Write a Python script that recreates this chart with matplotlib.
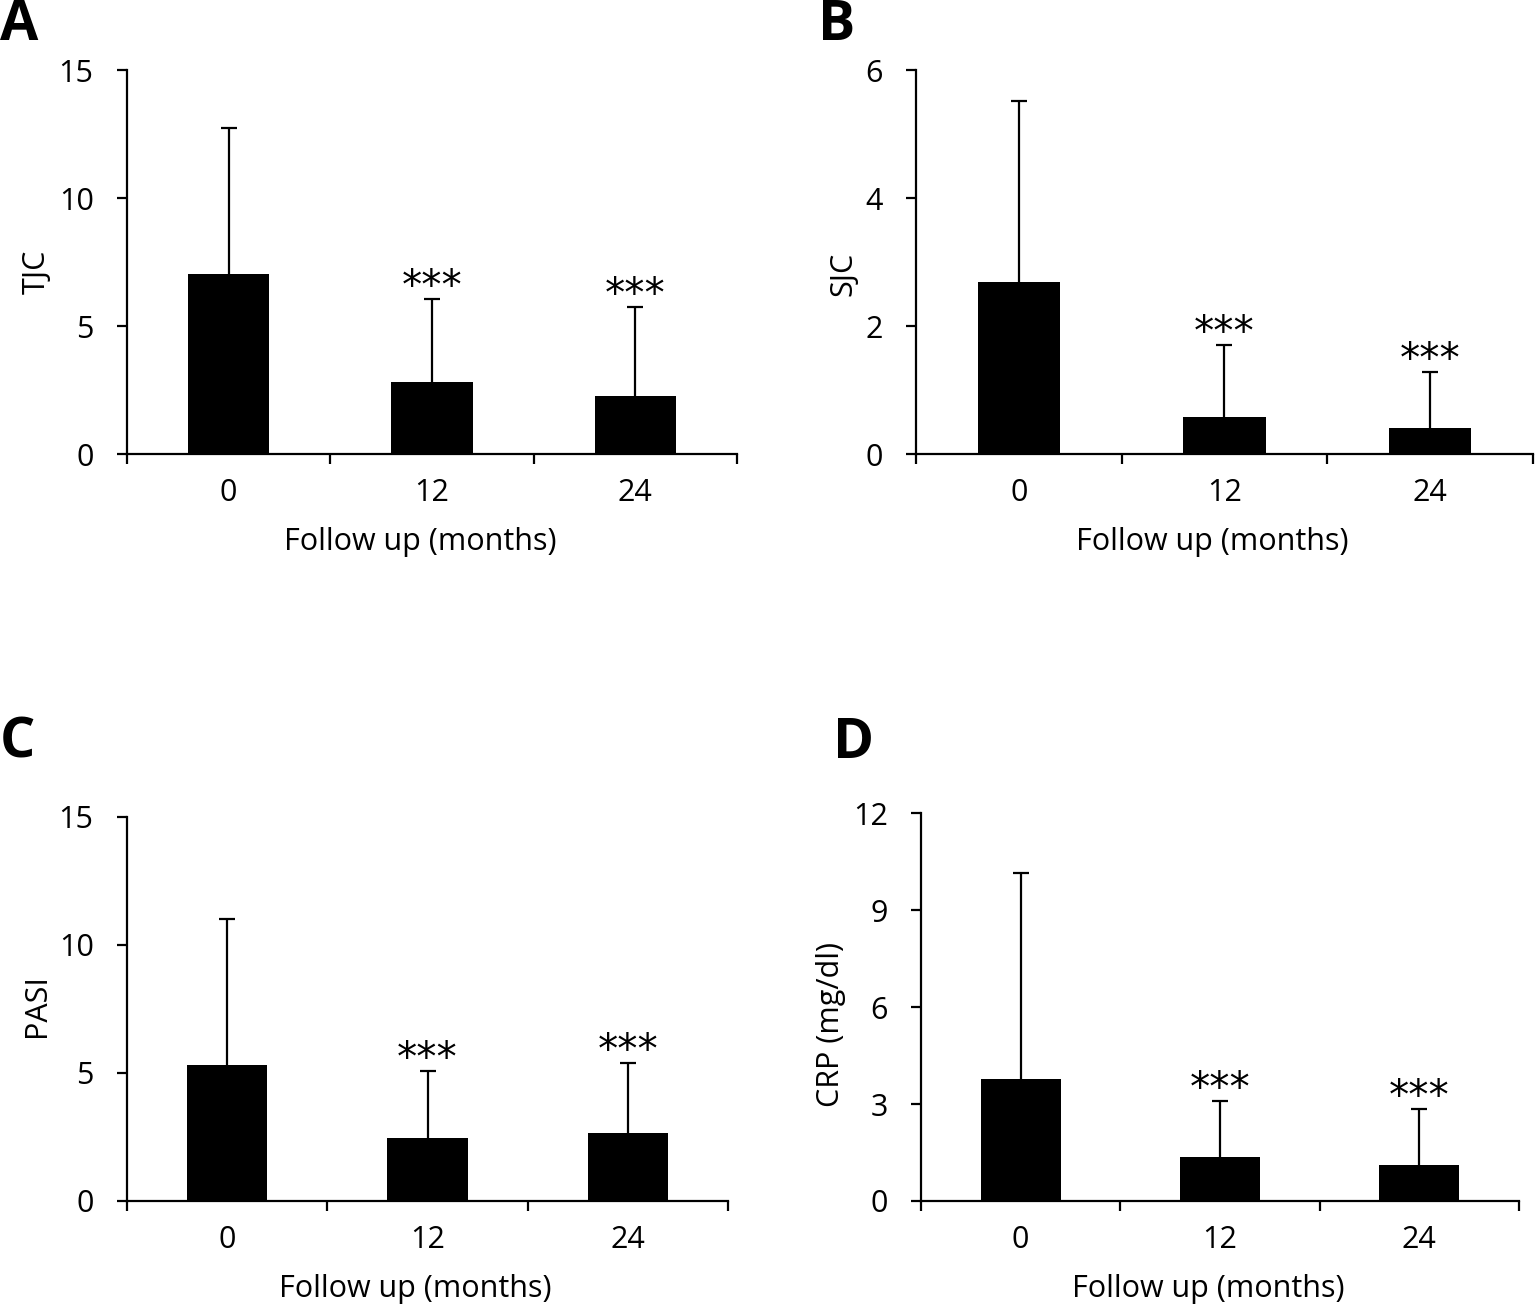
import matplotlib
matplotlib.use("Agg")
import matplotlib.pyplot as plt

plt.rcParams['font.family'] = ['Open Sans', 'DejaVu Sans']

months = ['0', '12', '24']

tjc_mean = [7.03, 2.81, 2.27]
tjc_sd = [5.70, 3.24, 3.47]

sjc_mean = [2.69, 0.58, 0.41]
sjc_sd = [2.83, 1.12, 0.87]

pasi_mean = [5.31, 2.46, 2.66]
pasi_sd = [5.71, 2.62, 2.73]

crp_mean = [3.77, 1.36, 1.11]
crp_sd = [6.37, 1.73, 1.74]

signif = ['', '***', '***']

W, H = 1535, 1305
fig = plt.figure(figsize=(W / 100, H / 100), dpi=100)


def box(x0, x1, ytop, ybot):
    return [x0 / W, 1 - ybot / H, (x1 - x0) / W, (ybot - ytop) / H]


# letter, axes box, means, sds, y label, y max, y step, letter pos, y-label centre (axes frac)
panels = [
    ('A', box(127, 737, 70, 454), tjc_mean, tjc_sd, 'TJC', 15, 5, (0, -2), 0.474),
    ('B', box(916, 1533, 70, 454), sjc_mean, sjc_sd, 'SJC', 6, 2, (818, -2), 0.469),
    ('C', box(127, 728, 817, 1201), pasi_mean, pasi_sd, 'PASI', 15, 5, (0, 716), 0.508),
    ('D', box(921, 1519, 813, 1201), crp_mean, crp_sd, 'CRP (mg/dl)', 12, 3, (833, 716), 0.454),
]

FS = 22
for letter, rect, mean, sd, ylabel, ymax, ystep, (lx, ly), ylab_y in panels:
    ax = fig.add_axes(rect)
    xs = range(len(months))
    ax.bar(xs, mean, width=0.4, color='black')
    eb = ax.errorbar(xs, mean, yerr=[[0] * len(sd), sd], fmt='none',
                     ecolor='black', elinewidth=1.6, capsize=5.5, capthick=1.6)
    eb[1][0].set_visible(False)  # no cap at the bar top
    for x, m, s, star in zip(xs, mean, sd, signif):
        if star:
            ax.annotate(star, xy=(x, m + s), xytext=(0, 0), textcoords='offset points',
                        ha='center', va='baseline', fontsize=29, family='DejaVu Sans')
    ax.set_xlim(-0.5, 2.5)
    ax.set_ylim(0, ymax)
    ax.set_yticks(range(0, ymax + 1, ystep))
    ax.set_xticks([-0.5, 0.5, 1.5, 2.5])
    ax.set_xticklabels([])
    ax.set_xticks(list(xs), minor=True)
    ax.set_xticklabels(months, minor=True)
    ax.tick_params(axis='x', which='major', length=7, width=1.6, direction='out')
    ax.tick_params(axis='x', which='minor', length=0, pad=17, labelsize=FS)
    ax.tick_params(axis='y', length=7, width=1.6, direction='out', labelsize=FS, pad=17)
    for s in ['top', 'right']:
        ax.spines[s].set_visible(False)
    for s in ['left', 'bottom']:
        ax.spines[s].set_linewidth(1.6)
    ax.set_xlabel('Follow up (months)', fontsize=FS, labelpad=14)
    ax.xaxis.label.set_x(0.48)
    ax.set_ylabel(ylabel, fontsize=FS, labelpad=5)
    ax.yaxis.label.set_y(ylab_y)
    fig.text(lx / W, 1 - ly / H, letter, fontsize=40, fontweight='bold',
             ha='left', va='top')

fig.savefig('out.png', dpi=100)
